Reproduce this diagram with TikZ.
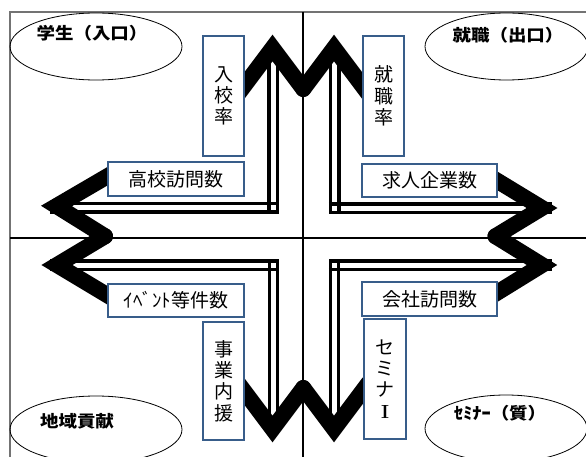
\documentclass[tikz,border=0pt]{standalone}
\usepackage{fontspec}
\usetikzlibrary{shapes.geometric}
\newfontfamily\jp{Noto Sans CJK JP}
\newfontfamily\jpo{Noto Sans CJK JP}[FakeStretch=1.12]
\definecolor{boxblue}{HTML}{385D8A}
\begin{document}
\begin{tikzpicture}[x=1pt,y=-1pt,
  frameline/.style={draw=black!55,line width=1.2pt},
  crossline/.style={draw=black,line width=2.6pt},
  oval/.style={draw=black,line width=0.8pt,ellipse,inner sep=0pt},
  ovaltext/.style={inner sep=0pt,font=\jpo\bfseries\fontsize{16.5}{18}\selectfont},
  shaft/.style={draw=black,line width=3.3pt},
  chev/.style={draw=black,line width=16pt,line join=miter,line cap=round},
  infobox/.style={draw=boxblue,fill=white,line width=2.4pt,inner sep=0pt,
    align=center,font=\jp\fontsize{19}{21.3}\selectfont},
]
\useasboundingbox (0,0) rectangle (586,457);
\clip (0,0) rectangle (586,457);

% frame and cross
\draw[frameline] (10,12) rectangle (600,470);
\coordinate (vtop) at (303,12);
\coordinate (vbot) at (303,470);
\coordinate (hl) at (10,238);
\coordinate (hr) at (600,238);
\draw[crossline] (vtop) -- (vbot);
\draw[crossline] (hl) -- (hr);

% ellipses
\node[oval,minimum width=172pt,minimum height=67pt] (e1) at (96,46.5) {};
\node[oval,minimum width=163pt,minimum height=67pt] (e2) at (506.5,46.5) {};
\node[oval,minimum width=172pt,minimum height=67pt] (e3) at (96,429.5) {};
\node[oval,minimum width=162pt,minimum height=67pt] (e4) at (506,428.5) {};
\node[ovaltext] (t1) at (92,33) {学生（入口）};
\node[ovaltext] (t2) at (508,35) {就職（出口）};
\node[ovaltext] (t3) at (77,421) {地域貢献};
\node[ovaltext] (t4) at (500,413) {ｾﾐﾅｰ（質）};

% shafts: top-left
\draw[shaft] (277.5,52) -- (277.5,212) -- (50,212);
\draw[shaft] (269,52) -- (269,213.65);
\draw[shaft] (50,203.5) -- (279.15,203.5);
% top-right
\draw[shaft] (330.5,52) -- (330.5,212.5) -- (552,212.5);
\draw[shaft] (339,52) -- (339,214.15);
\draw[shaft] (328.85,204) -- (552,204);
% bottom-left
\draw[shaft] (50,261) -- (277.5,261) -- (277.5,425);
\draw[shaft] (50,269.5) -- (279.15,269.5);
\draw[shaft] (269.5,259.35) -- (269.5,425);
% bottom-right
\draw[shaft] (330.5,425) -- (330.5,261) -- (552,261);
\draw[shaft] (328.85,269.5) -- (552,269.5);
\draw[shaft] (338.5,259.35) -- (338.5,425);

% chevron heads
\draw[chev] (238,94) -- (272.5,48) -- (303.25,89);
\draw[chev] (303.25,89) -- (334,48) -- (368.5,94);
\draw[chev] (238,383) -- (272.5,429) -- (303.25,388);
\draw[chev] (303.25,388) -- (334,429) -- (368.5,383);
\draw[chev] (113,173) -- (56.5,206) -- (105,236.25);
\draw[chev] (105,236.25) -- (57,265) -- (113,298.6);
\draw[chev] (488.5,175.5) -- (542,208) -- (495.5,236.25);
\draw[chev] (495.5,236.25) -- (542,265) -- (488.5,298);

% boxes
\node[infobox,minimum width=40.6pt,minimum height=119.6pt] (kou) at (223.5,96) {入\\校\\率};
\node[infobox,minimum width=135.6pt,minimum height=33.6pt] (hv) at (176,179) {高校訪問数};
\node[infobox,minimum width=40.6pt,minimum height=119.6pt] (shu) at (383.5,96) {就\\職\\率};
\node[infobox,minimum width=134.6pt,minimum height=32.6pt] (kyu) at (429.5,180.5) {求人企業数};
\node[infobox,minimum width=135.6pt,minimum height=32.6pt] (evt) at (176,300.5) {ｲﾍﾞﾝﾄ等件数};
\node[infobox,minimum width=40.6pt,minimum height=117.6pt] (jig) at (223.5,381) {事\\業\\内\\援};
\node[infobox,minimum width=134.6pt,minimum height=33.6pt] (kai) at (429.5,299) {会社訪問数};
\node[infobox,minimum width=41.6pt,minimum height=119.6pt] (sem) at (385,379) {セ\\ミ\\ナ\\{\rmfamily\bfseries I}};
\end{tikzpicture}
\end{document}
